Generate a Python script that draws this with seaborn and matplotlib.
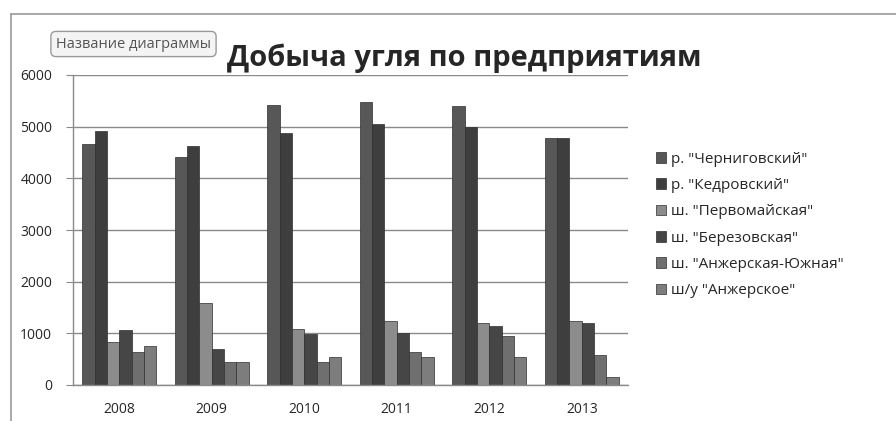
"""Coal production by enterprise, grouped bars per year."""

import matplotlib

matplotlib.use("Agg", force=True)

import matplotlib.pyplot as plt
import pandas as pd
import seaborn as sns
from matplotlib.lines import Line2D

years = ["2008", "2009", "2010", "2011", "2012", "2013"]
enterprises = [
    'р. "Черниговский"',
    'р. "Кедровский"',
    'ш. "Первомайская"',
    'ш. "Березовская"',
    'ш. "Анжерская-Южная"',
    'ш/у "Анжерское"',
]
chernigovsky = [4670, 4410, 5420, 5470, 5400, 4780]
kedrovsky = [4910, 4620, 4880, 5050, 5000, 4780]
pervomayskaya = [830, 1580, 1080, 1230, 1200, 1230]
berezovskaya = [1060, 690, 990, 1010, 1140, 1200]
anzh_yuzhnaya = [630, 450, 450, 630, 950, 580]
anzherskoe = [750, 450, 545, 545, 545, 160]

series = [chernigovsky, kedrovsky, pervomayskaya, berezovskaya, anzh_yuzhnaya, anzherskoe]
colors = ["#575757", "#3e3e3e", "#8c8c8c", "#464646", "#6f6f6f", "#7d7d7d"]

rows = []
for name, values in zip(enterprises, series):
    for year, value in zip(years, values):
        rows.append({"Год": year, "Предприятие": name, "Добыча": value})
df = pd.DataFrame(rows)

sns.set_style("white")
plt.rcParams["font.family"] = ["Open Sans", "DejaVu Sans"]

fig = plt.figure(figsize=(8.96, 4.21), dpi=100)
ax = fig.add_axes([73 / 896, 36 / 421, 555 / 896, 310 / 421])

sns.barplot(
    data=df,
    x="Год",
    y="Добыча",
    hue="Предприятие",
    hue_order=enterprises,
    palette=colors,
    width=0.8,
    edgecolor="#2e2e2e",
    linewidth=0.5,
    ax=ax,
)

ax.set_ylim(0, 6000)
ax.set_yticks(range(0, 6001, 1000))
ax.yaxis.grid(True, color="#8a8a8a", linewidth=1)
ax.set_axisbelow(True)
ax.set_xlabel("")
ax.set_ylabel("")
ax.tick_params(axis="y", length=5, color="#8a8a8a", labelsize=10, pad=10)
ax.tick_params(axis="x", length=0, labelsize=10, pad=12)
ax.yaxis.set_tick_params(left=True)
for side in ("top", "right"):
    ax.spines[side].set_visible(False)
for side in ("left", "bottom"):
    ax.spines[side].set_color("#8a8a8a")
    ax.spines[side].set_linewidth(1)

ax.legend(
    loc="upper left",
    bbox_to_anchor=(642 / 896, 1 - 138 / 421),
    bbox_transform=fig.transFigure,
    frameon=False,
    fontsize=11,
    handlelength=0.7,
    handleheight=0.7,
    handletextpad=0.3,
    labelspacing=0.74,
)

fig.text(
    464 / 896,
    1 - 58 / 421,
    "Добыча угля по предприятиям",
    ha="center",
    va="center",
    fontsize=21,
    fontweight="bold",
    zorder=1,
)
fig.text(
    56 / 896,
    1 - 44 / 421,
    "Название диаграммы",
    ha="left",
    va="center",
    fontsize=10.5,
    color="#555555",
    zorder=5,
    bbox=dict(boxstyle="round,pad=0.35", facecolor="#f4f4f4", edgecolor="#9a9a9a"),
)

# chart area frame
fig.add_artist(Line2D([11 / 896, 11 / 896], [0, 1 - 14 / 421], color="#9a9a9a", lw=1.2, transform=fig.transFigure))
fig.add_artist(Line2D([11 / 896, 1], [1 - 14 / 421, 1 - 14 / 421], color="#9a9a9a", lw=1.2, transform=fig.transFigure))

fig.savefig("out.png", dpi=100)
plt.close(fig)
